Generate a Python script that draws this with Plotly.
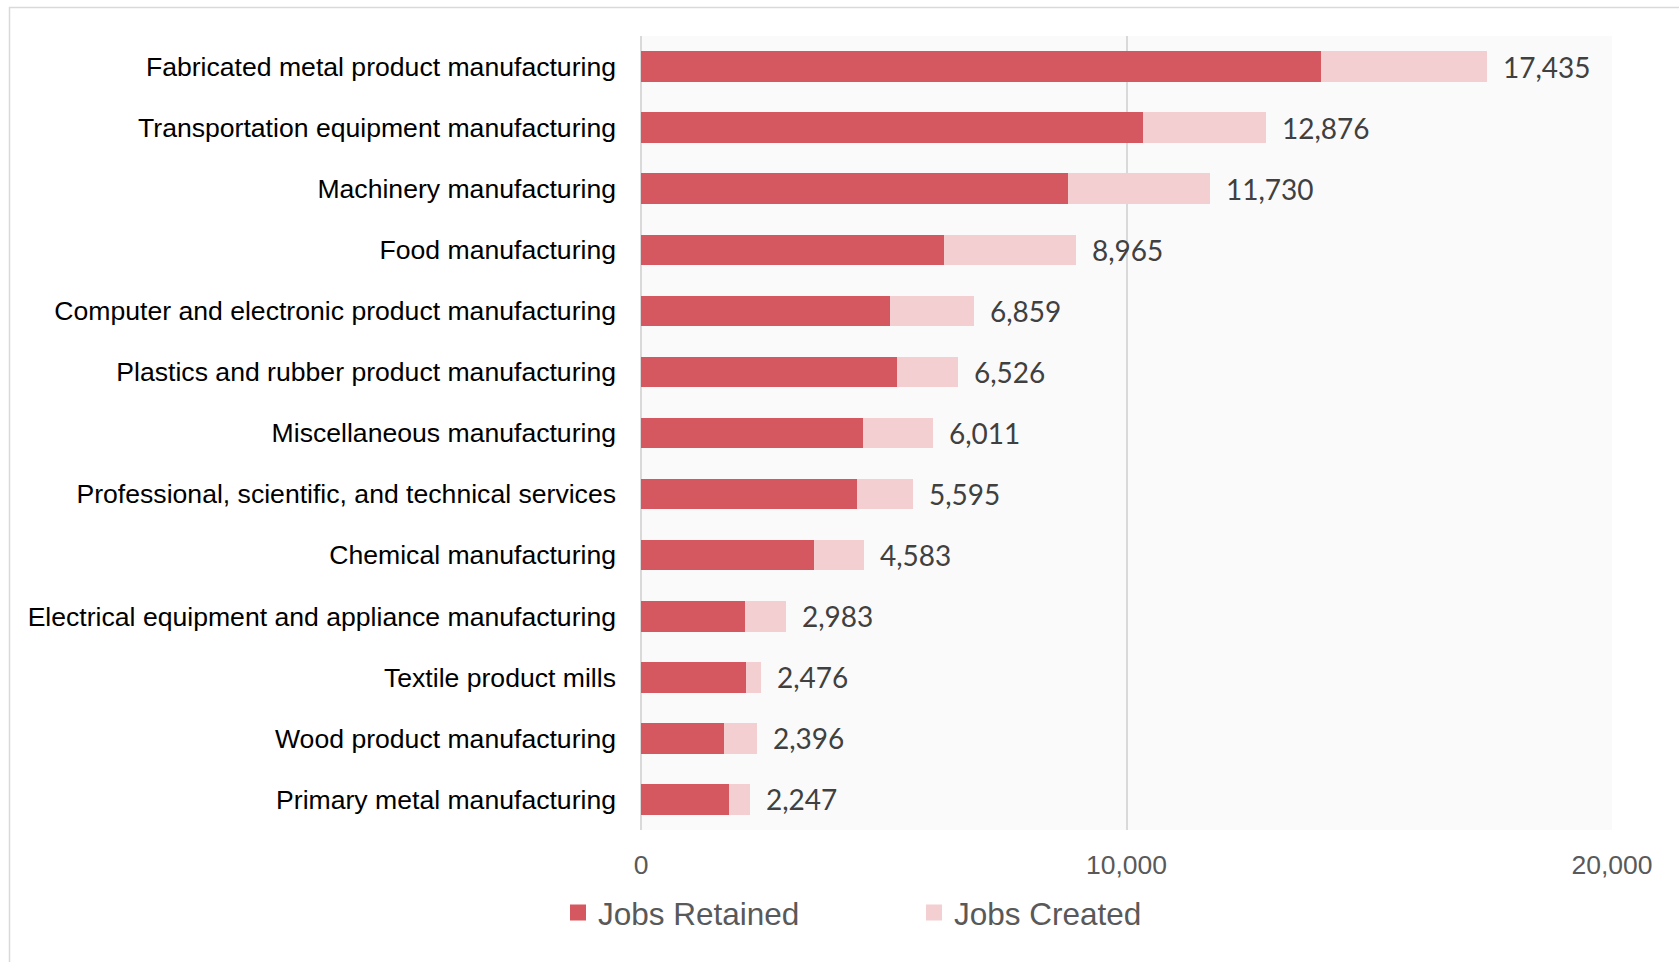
import plotly.graph_objects as go

# Industries, listed from largest to smallest total
industries = [
    "Fabricated metal product manufacturing",
    "Transportation equipment manufacturing",
    "Machinery manufacturing",
    "Food manufacturing",
    "Computer and electronic product manufacturing",
    "Plastics and rubber product manufacturing",
    "Miscellaneous manufacturing",
    "Professional, scientific, and technical services",
    "Chemical manufacturing",
    "Electrical equipment and appliance manufacturing",
    "Textile product mills",
    "Wood product manufacturing",
    "Primary metal manufacturing",
]

# Total jobs per industry (retained + created)
total_jobs = [17435, 12876, 11730, 8965, 6859, 6526, 6011, 5595, 4583, 2983, 2476, 2396, 2247]

# Jobs retained per industry
jobs_retained = [14000, 10350, 8800, 6250, 5120, 5265, 4580, 4450, 3570, 2135, 2170, 1705, 1805]

# Jobs created make up the rest of each total
jobs_created = [t - r for t, r in zip(total_jobs, jobs_retained)]

series_names = ["Jobs Retained", "Jobs Created"]

x_ticks = [0, 10000, 20000]
x_tick_labels = ["0", "10,000", "20,000"]

RETAINED_COLOR = "#D5575F"
CREATED_COLOR = "#F3CFD2"

W, H = 1679, 962
L, R, T, B = 641, 67, 36, 132
plot_w = W - L - R
plot_h = H - T - B

fig = go.Figure()
for name, values, color in zip(series_names, [jobs_retained, jobs_created],
                               [RETAINED_COLOR, CREATED_COLOR]):
    fig.add_trace(go.Bar(
        y=industries, x=values, orientation="h", name=name,
        marker=dict(color=color, line=dict(width=0)),
        hoverinfo="x+y", showlegend=False, legendgroup=name,
    ))

# Legend entries with larger square swatches
for name, color in zip(series_names, [RETAINED_COLOR, CREATED_COLOR]):
    fig.add_trace(go.Scatter(
        x=[None], y=[None], mode="markers", name=name, legendgroup=name,
        marker=dict(symbol="square", size=17, color=color, line=dict(width=0)),
        hoverinfo="skip",
    ))

# Total labels at the end of each stacked bar
for cat, tot in zip(industries, total_jobs):
    fig.add_annotation(
        x=tot, y=cat, xref="x", yref="y",
        text=f"{tot:,}", showarrow=False,
        xanchor="left", yanchor="middle", xshift=14,
        font=dict(family="Lato, Open Sans, sans-serif", size=28, color="#404040"),
    )

# Light frame around the chart
fig.add_shape(
    type="rect", xref="paper", yref="paper",
    x0=(9.5 - L) / plot_w, x1=1.2,
    y0=-0.3, y1=1 + (T - 7.5) / plot_h,
    line=dict(color="#D9D9D9", width=1.5), fillcolor="rgba(0,0,0,0)",
    layer="below",
)

fig.update_layout(
    width=W, height=H,
    margin=dict(l=L, r=R, t=T, b=B, autoexpand=False),
    barmode="stack",
    bargap=0.5,
    paper_bgcolor="white",
    plot_bgcolor="#FAFAFA",
    font=dict(family="Arial, Liberation Sans, sans-serif"),
    showlegend=True,
    legend=dict(
        orientation="h",
        xref="container", yref="container",
        x=558 / W, y=1 - 912.5 / H,
        xanchor="left", yanchor="middle",
        entrywidth=311,
        font=dict(size=31.5, color="#595959", family="Arial, Liberation Sans, sans-serif"),
        bgcolor="rgba(0,0,0,0)",
        traceorder="normal",
    ),
    xaxis=dict(
        range=[0, 20000],
        tickvals=x_ticks, ticktext=x_tick_labels,
        showgrid=True, gridcolor="#D9D9D9", gridwidth=1.5,
        zeroline=True, zerolinecolor="#D9D9D9", zerolinewidth=2,
        showline=False,
        ticks="", ticklabelstandoff=16,
        tickfont=dict(size=26.5, color="#595959"),
        fixedrange=True,
    ),
    yaxis=dict(
        autorange="reversed",
        showgrid=False, zeroline=False, showline=False,
        ticks="", ticklabelstandoff=24,
        tickfont=dict(size=26.6, color="#000000"),
        fixedrange=True,
    ),
)

fig.write_html("out.html")
